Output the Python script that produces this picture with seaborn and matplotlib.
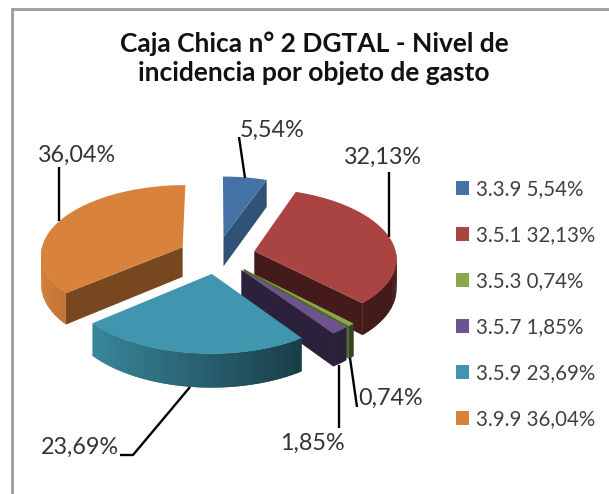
import numpy as np
import matplotlib
matplotlib.use("Agg")
import matplotlib.pyplot as plt
from matplotlib.colors import to_rgb
from matplotlib.patches import Patch, Polygon
import seaborn as sns

categories = ["3.3.9", "3.5.1", "3.5.3", "3.5.7", "3.5.9", "3.9.9"]
values = [5.54, 32.13, 0.74, 1.85, 23.69, 36.04]
value_labels = ["5,54%", "32,13%", "0,74%", "1,85%", "23,69%", "36,04%"]
colors = ["#4472A5", "#A94442", "#8AA74C", "#6E5390", "#3F96AE", "#D9823B"]
wall_shade = [0.72, 0.4, 0.6, 0.4, 0.5, 0.55]
title = "Caja Chica n° 2 DGTAL - Nivel de\nincidencia por objeto de gasto"

# pie layout in pixels
cx, cy = 217, 255
rx, ry = 142, 69
persp = 0.09
depth = 30
explode = 0.27

sns.set_theme(style="white")
plt.rcParams["font.family"] = ["Lato", "DejaVu Sans"]

fig = plt.figure(figsize=(6.09, 4.94), dpi=100)
ax = fig.add_axes([0, 0, 1, 1])
ax.set_xlim(0, 609)
ax.set_ylim(494, 0)
ax.axis("off")


def project(u, v, drop=0.0):
    s = 1 / (1 + persp * v)
    return cx + rx * u * s, cy - ry * v * s + drop * depth * s


def shade(color, amount):
    return tuple(np.array(to_rgb(color)) * amount)


# the frame only shows on the top and left, the rest is cropped away
ax.plot([609, 11.5, 11.5], [9.5, 9.5, 494], color="#9A9A9A", lw=2, solid_joinstyle="miter")

start = 0.0
slices = []
for val, col, wall in zip(values, colors, wall_shade):
    a0 = start
    a1 = start + val * 3.6
    start = a1
    slices.append((a0, a1, np.radians((a0 + a1) / 2), col, wall))

# far slices first so the near ones cover them
for a0, a1, mid, col, wall in sorted(slices, key=lambda s: -np.cos(s[2])):
    ou, ov = explode * np.sin(mid), explode * np.cos(mid)
    th = np.radians(np.linspace(a0, a1, max(int(a1 - a0), 2) + 1))
    us, vs = ou + np.sin(th), ov + np.cos(th)

    # outer wall, front part only, darker towards the right, quads overlap to hide seams
    for i in range(len(th) - 1):
        if np.cos(th[i]) > 0 and np.cos(th[i + 1]) > 0:
            continue
        j = min(i + 2, len(th) - 1)
        pts = [project(us[i], vs[i]), project(us[j], vs[j]),
               project(us[j], vs[j], 1), project(us[i], vs[i], 1)]
        amount = max(0.62 - 0.36 * np.sin(th[i]), 0.4)
        ax.add_patch(Polygon(pts, fc=shade(col, amount), ec="none", zorder=2))

    # radial walls, only the ones facing the viewer
    for t, visible in ((th[0], np.sin(th[0]) < -1e-6), (th[-1], np.sin(th[-1]) > 1e-6)):
        if not visible:
            continue
        pts = [project(ou, ov), project(ou + np.sin(t), ov + np.cos(t)),
               project(ou + np.sin(t), ov + np.cos(t), 1), project(ou, ov, 1)]
        ax.add_patch(Polygon(pts, fc=shade(col, wall), ec="none", zorder=2))

    # top face
    top = [project(ou, ov)] + [project(a, b) for a, b in zip(us, vs)]
    ax.add_patch(Polygon(top, fc=col, ec="none", zorder=2))

# data labels (centres) with their leader lines
label_pos = [(272, 130), (383, 157), (391, 398), (312, 443), (80, 447), (77, 155)]
leaders = [
    [(239, 137), (245, 178)],
    [(389, 172), (389, 237)],
    [(350, 358), (357, 407)],
    [(339, 365), (339, 428)],
    [(190, 387), (133, 455), (120, 455)],
    [(59, 167), (59, 221)],
]
for txt, pos, line in zip(value_labels, label_pos, leaders):
    xs, ys = zip(*line)
    ax.plot(xs, ys, color="black", lw=1.7, zorder=3, solid_capstyle="butt")
    ax.text(pos[0], pos[1], txt, fontsize=16.8, color="#333333", ha="center", va="center", zorder=4)

ax.text(314, 58, title, fontsize=19, fontweight="bold", color="#111111",
        ha="center", va="center", linespacing=1.25)

handles = [Patch(fc=c, ec="none") for c in colors]
names = [f"{c} {v}" for c, v in zip(categories, value_labels)]
ax.legend(handles, names, loc="upper left", bbox_to_anchor=(456 / 609, 1 - 179 / 494),
          frameon=False, fontsize=14.8, labelcolor="#404040", handlelength=0.65, handleheight=0.65,
          handletextpad=0.3, labelspacing=1.27, borderpad=0, borderaxespad=0)

fig.savefig("out.png", dpi=100)
